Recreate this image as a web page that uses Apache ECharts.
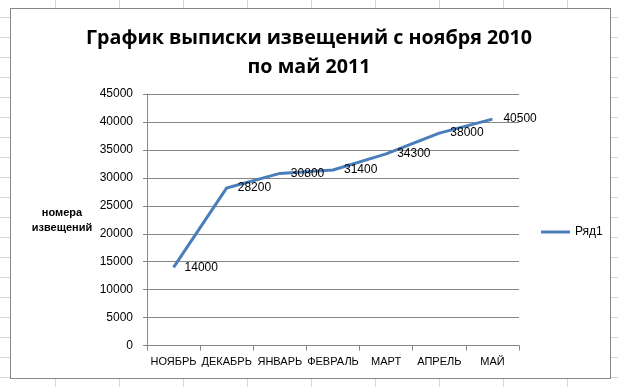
<!DOCTYPE html>
<html>
<head>
<meta charset="utf-8">
<script src="https://cdn.jsdelivr.net/npm/echarts@6/dist/echarts.min.js"></script>
<style>
html,body{margin:0;padding:0;width:618px;height:387px;overflow:hidden;}
body{
  background-color:#fff;
  background-image:
    repeating-linear-gradient(to right, transparent 0, transparent 55px, #d4d6d8 55px, #d4d6d8 56px, transparent 56px, transparent 64px),
    repeating-linear-gradient(to bottom, transparent 0, transparent 17px, #d4d6d8 17px, #d4d6d8 18px, transparent 18px, transparent 20px);
  background-position: 0 0, 0 0;
}
#box{position:absolute;left:10px;top:8px;width:599px;height:369px;background:#fff;border:1px solid #878787;}
#chart{position:absolute;left:0;top:0;width:618px;height:387px;}
</style>
</head>
<body>
<div id="box"></div>
<div id="chart"></div>
<script>
const categories = ['НОЯБРЬ','ДЕКАБРЬ','ЯНВАРЬ','ФЕВРАЛЬ','МАРТ','АПРЕЛЬ','МАЙ'];
const seriesName = 'Ряд1';
const values = [14000, 28200, 30800, 31400, 34300, 38000, 40500];
const titleText = 'График выписки извещений с ноября 2010\nпо май 2011';
const yAxisName = 'номера\nизвещений';

const chart = echarts.init(document.getElementById('chart'), null, {renderer:'canvas'});
const font = '"Liberation Sans", Arial, sans-serif';
chart.setOption({
  backgroundColor: 'transparent',
  animation: false,
  title: {
    text: titleText,
    left: 'center',
    top: 19,
    textStyle: {fontFamily: '"Open Sans", sans-serif', fontWeight: 'bold', fontSize: 19.7, lineHeight: 29, color: '#000'}
  },
  legend: {
    data: [{name: seriesName, icon: 'rect'}],
    left: 536, top: 221,
    itemWidth: 29, itemHeight: 3,
    itemStyle: {color: '#4a7ebb', opacity: 1},
    textStyle: {fontFamily: font, fontSize: 12, color: '#000'}
  },
  grid: {left: 147, right: 99, top: 94, bottom: 41.4, containLabel: false},
  graphic: [{
    type: 'text', x: 62, y: 205,
    style: {text: yAxisName, fontFamily: font, fontWeight: 'bold', fontSize: 11, lineHeight: 15, align: 'center', fill: '#000'}
  }],
  xAxis: {
    type: 'category',
    data: categories,
    boundaryGap: true,
    axisLine: {lineStyle: {color: '#868686', width: 1}},
    axisTick: {show: true, alignWithLabel: false, length: 5, lineStyle: {color: '#868686'}},
    axisLabel: {interval: 0, hideOverlap: false, fontFamily: font, fontSize: 11, color: '#000', margin: 11}
  },
  yAxis: {
    type: 'value',
    min: 0, max: 45000, interval: 5000,
    axisLine: {show: true, lineStyle: {color: '#868686', width: 1}},
    axisTick: {show: true, length: 4, lineStyle: {color: '#868686'}},
    axisLabel: {fontFamily: font, fontSize: 12, color: '#000', margin: 14, formatter: function (v) { return String(v); }},
    splitLine: {show: true, lineStyle: {color: '#868686', width: 1}}
  },
  series: [{
    name: seriesName,
    type: 'line',
    data: values,
    showSymbol: true,
    symbol: 'circle',
    symbolSize: 0,
    lineStyle: {color: '#4a7ebb', width: 3},
    itemStyle: {color: '#4a7ebb'},
    label: {show: true, position: 'right', distance: 11, fontFamily: font, fontSize: 12, color: '#000'}
  }]
});
</script>
</body>
</html>
